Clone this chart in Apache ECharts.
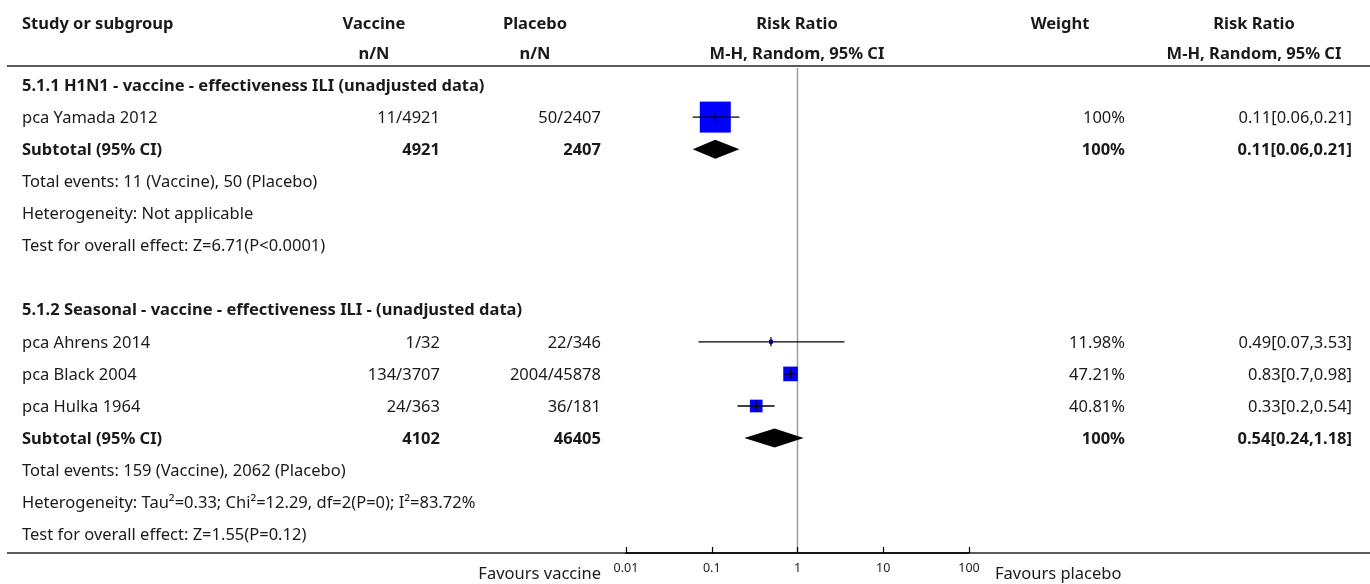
<!DOCTYPE html>
<html>
<head>
<meta charset="utf-8">
<script src="https://cdn.jsdelivr.net/npm/echarts@6/dist/echarts.min.js"></script>
<style>
html,body{margin:0;padding:0;background:#fff;}
#c{width:1370px;height:584px;}
</style>
</head>
<body>
<div id="c"></div>
<script>
// ---------- data ----------
const headerRow1 = ['Study or subgroup', 'Vaccine', 'Placebo', 'Risk Ratio', 'Weight', 'Risk Ratio'];
const headerRow2 = ['', 'n/N', 'n/N', 'M-H, Random, 95% CI', '', 'M-H, Random, 95% CI'];

const groupTitles = ['5.1.1 H1N1 - vaccine - effectiveness ILI (unadjusted data)',
                     '5.1.2 Seasonal - vaccine - effectiveness ILI - (unadjusted data)'];
const groupRows = [0, 7];

const studyNames = ['pca Yamada 2012', 'pca Ahrens 2014', 'pca Black 2004', 'pca Hulka 1964'];
const studyRows = [1, 8, 9, 10];
const vaccineNN = ['11/4921', '1/32', '134/3707', '24/363'];
const placeboNN = ['50/2407', '22/346', '2004/45878', '36/181'];
const studyRR = [0.11, 0.49, 0.83, 0.33];
const studyLow = [0.06, 0.07, 0.7, 0.2];
const studyHigh = [0.21, 3.53, 0.98, 0.54];
const studyWeight = [100, 11.98, 47.21, 40.81];

const subtotalLabel = 'Subtotal (95% CI)';
const subtotalRows = [2, 11];
const subtotalVaccineN = [4921, 4102];
const subtotalPlaceboN = [2407, 46405];
const subtotalRR = [0.11, 0.54];
const subtotalLow = [0.06, 0.24];
const subtotalHigh = [0.21, 1.18];
const subtotalWeight = [100, 100];

const noteRows = [3, 4, 5, 12, 13, 14];
const noteTexts = [
  'Total events: 11 (Vaccine), 50 (Placebo)',
  'Heterogeneity: Not applicable',
  'Test for overall effect: Z=6.71(P<0.0001)',
  'Total events: 159 (Vaccine), 2062 (Placebo)',
  'Heterogeneity: Tau\u00b2=0.33; Chi\u00b2=12.29, df=2(P=0); I\u00b2=83.72%',
  'Test for overall effect: Z=1.55(P=0.12)'
];

const axisTicks = [0.01, 0.1, 1, 10, 100];
const favoursLeft = 'Favours vaccine';
const favoursRight = 'Favours placebo';

// ---------- layout ----------
const FONT = '"Noto Sans"';
const FS = 16.5;
const TXT = '#1a1a1a';
const ROW0 = 85, ROWH = 32.1;
const GRID_TOP = 68, GRID_BOTTOM_Y = 553;
const yMin = (GRID_TOP - ROW0) / ROWH;
const yMax = (GRID_BOTTOM_Y - ROW0) / ROWH;

const chart = echarts.init(document.getElementById('c'), null, {renderer: 'canvas'});

const studyData = studyRR.map((v, i) => [v, studyRows[i], studyLow[i], studyHigh[i], studyWeight[i]]);
const subData = subtotalRR.map((v, i) => [v, subtotalRows[i], subtotalLow[i], subtotalHigh[i]]);

chart.setOption({
  animation: false,
  grid: {left: 626, right: 1370 - 969, top: GRID_TOP, bottom: 584 - GRID_BOTTOM_Y},
  xAxis: {
    type: 'log', logBase: 10, min: axisTicks[0], max: axisTicks[axisTicks.length - 1],
    position: 'bottom', z: 10,
    axisLine: {show: true, onZero: false, lineStyle: {color: '#000', width: 1.5}},
    axisTick: {show: true, inside: true, length: 6, lineStyle: {color: '#000', width: 1.2}},
    minorTick: {show: false},
    splitLine: {show: false},
    axisLabel: {fontFamily: 'Noto Sans', fontSize: 12.5, color: '#222', margin: 9,
      formatter: v => String(+v.toPrecision(3))}
  },
  yAxis: {type: 'value', inverse: true, min: yMin, max: yMax, show: false},
  series: [
    {
      type: 'line', silent: true, symbol: 'none',
      data: [[1, yMin], [1, yMax]],
      lineStyle: {color: '#a0a0a0', width: 1.5}, z: 1
    },
    {
      type: 'custom', z: 3,
      data: studyData,
      encode: {x: 0, y: 1},
      renderItem: (params, api) => {
        const row = api.value(1);
        const p = api.coord([api.value(0), row]);
        const l = api.coord([api.value(2), row]);
        const h = api.coord([api.value(3), row]);
        const s = Math.max(4, api.value(4) * 0.31);
        return {
          type: 'group',
          children: [
            {type: 'rect', shape: {x: p[0] - s / 2, y: p[1] - s / 2, width: s, height: s},
             style: {fill: '#0000ff'}},
            {type: 'line', shape: {x1: l[0], y1: p[1], x2: h[0], y2: p[1]},
             style: {stroke: '#000', lineWidth: 1.3}},
            {type: 'line', shape: {x1: p[0], y1: p[1] - 4.5, x2: p[0], y2: p[1] + 4.5},
             style: {stroke: '#000', lineWidth: 1.3}}
          ]
        };
      }
    },
    {
      type: 'custom', z: 3,
      data: subData,
      encode: {x: 0, y: 1},
      renderItem: (params, api) => {
        const row = api.value(1);
        const p = api.coord([api.value(0), row]);
        const l = api.coord([api.value(2), row]);
        const h = api.coord([api.value(3), row]);
        return {
          type: 'polygon',
          shape: {points: [[l[0], p[1]], [p[0], p[1] - 9.5], [h[0], p[1]], [p[0], p[1] + 9.5]]},
          style: {fill: '#000'}
        };
      }
    }
  ]
});

// ---------- table text ----------
const rowY = r => chart.convertToPixel({yAxisIndex: 0}, r);
const g = [];
function txt(x, y, s, align, bold) {
  g.push({type: 'text', x: x, y: y + 1, silent: true,
    style: {text: s, fill: TXT, font: (bold ? 'bold ' : '') + FS + 'px ' + FONT,
      textAlign: align, textVerticalAlign: 'middle'}});
}
// headers
const hdrX = [22, 374, 535, 797, 1060, 1254];
const hdrAlign = ['left', 'center', 'center', 'center', 'center', 'center'];
headerRow1.forEach((s, i) => txt(hdrX[i], 23, s, hdrAlign[i], true));
headerRow2.forEach((s, i) => { if (s) txt(hdrX[i], 53, s, hdrAlign[i], true); });

// rules (drawn beneath the axis so the ticks stay visible)
g.push({type: 'line', z: -1, shape: {x1: 7, y1: 66, x2: 1370, y2: 66}, style: {stroke: '#222', lineWidth: 1.6}});
g.push({type: 'line', z: -1, shape: {x1: 7, y1: GRID_BOTTOM_Y, x2: 1370, y2: GRID_BOTTOM_Y}, style: {stroke: '#222', lineWidth: 1.6}});

const X_VAC = 440, X_PLA = 601, X_W = 1125, X_RR = 1352, X_LEFT = 22;
groupTitles.forEach((s, i) => txt(X_LEFT, rowY(groupRows[i]), s, 'left', true));
studyNames.forEach((s, i) => {
  const y = rowY(studyRows[i]);
  txt(X_LEFT, y, s, 'left', false);
  txt(X_VAC, y, vaccineNN[i], 'right', false);
  txt(X_PLA, y, placeboNN[i], 'right', false);
  txt(X_W, y, studyWeight[i] + '%', 'right', false);
  txt(X_RR, y, studyRR[i] + '[' + studyLow[i] + ',' + studyHigh[i] + ']', 'right', false);
});
subtotalRows.forEach((r, i) => {
  const y = rowY(r);
  txt(X_LEFT, y, subtotalLabel, 'left', true);
  txt(X_VAC, y, String(subtotalVaccineN[i]), 'right', true);
  txt(X_PLA, y, String(subtotalPlaceboN[i]), 'right', true);
  txt(X_W, y, subtotalWeight[i] + '%', 'right', true);
  txt(X_RR, y, subtotalRR[i] + '[' + subtotalLow[i] + ',' + subtotalHigh[i] + ']', 'right', true);
});
noteTexts.forEach((s, i) => txt(X_LEFT, rowY(noteRows[i]), s, 'left', false));

txt(601, 573, favoursLeft, 'right', false);
txt(995, 573, favoursRight, 'left', false);

chart.setOption({graphic: {elements: g}});
</script>
</body>
</html>
